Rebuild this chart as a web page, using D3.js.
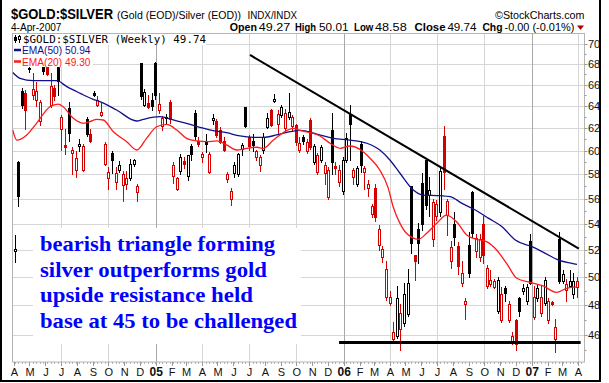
<!DOCTYPE html>
<html><head><meta charset="utf-8">
<script src="https://cdn.jsdelivr.net/npm/d3@7"></script>
<style>html,body{margin:0;padding:0;background:#fff;}svg{display:block;}</style>
</head><body>
<script>
// ---------- DATA ----------
const firstWeek = Date.UTC(2004, 3, 2); // weekly candles, one per week
const opens = [51.9,59.0,65.4,65.2,67.6,65.0,64.6,62.6,67.7,67.7,64.1,65.7,67.7,61.9,60.5,63.8,59.8,58.4,60.4,58.4,
62.8,61.5,65.2,64.1,63.2,58.9,57.7,59.8,57.4,58.4,57.1,57.2,57.7,58.9,56.5,68.1,64.1,64.3,64.6,68.1,
63.6,62.2,62.9,64.4,57.9,56.8,58.3,59.1,57.9,60.4,63.4,60.9,59.5,60.9,58.2,62.7,62.6,61.8,60.9,57.6,
56.0,58.1,58.0,60.2,63.9,61.2,60.9,59.5,58.8,60.1,62.1,63.6,64.5,62.4,63.2,62.0,63.0,62.2,62.3,60.1,
61.2,60.0,62.7,59.0,58.2,59.2,58.1,56.1,61.8,58.7,57.4,56.6,59.2,63.3,57.8,57.2,60.6,58.2,56.9,54.8,
56.9,52.4,51.5,48.6,48.2,45.7,45.9,46.4,46.8,47.4,57.0,51.6,53.6,57.3,59.2,56.3,52.8,54.6,54.9,61.3,
54.7,51.2,54.0,52.3,49.6,48.1,52.4,56.5,51.9,51.5,54.0,49.4,49.5,49.3,47.6,47.0,49.2,47.0,45.6,47.0,
48.5,49.0,48.3,52.7,47.2,48.5,47.5,48.2,47.0,48.25,45.7,52.8,49.7,49.1,49.4,48.8,49.27];
const highs = [53.1,59.1,65.7,65.5,67.7,67.1,66.3,64.6,67.8,67.8,67.1,66.0,67.7,63.2,61.9,64.4,60.3,60.0,61.0,60.6,
63.0,61.9,65.4,64.9,64.3,60.8,58.6,60.0,58.6,59.1,58.3,58.3,59.3,59.3,57.2,68.1,65.6,65.0,65.2,68.2,
65.2,63.1,63.3,64.6,59.0,57.8,59.7,59.5,59.6,60.6,63.6,61.2,59.9,61.5,59.9,63.3,62.8,62.1,61.2,58.2,
56.9,59.0,59.8,60.7,63.9,61.4,61.5,60.1,59.6,61.6,63.4,63.7,65.1,63.6,64.1,63.7,65.2,63.2,62.4,61.2,
61.4,61.0,62.9,60.6,59.8,60.5,59.0,58.6,63.4,59.0,58.8,59.5,61.6,64.1,58.5,58.7,60.9,58.7,57.5,55.6,
57.2,53.9,52.3,51.2,49.0,46.9,49.4,48.1,49.6,50.6,57.0,51.6,54.1,58.1,59.4,57.8,56.0,55.9,58.6,62.2,
56.0,52.7,54.9,52.6,51.2,48.5,53.4,56.6,53.2,53.2,54.6,50.9,50.5,49.9,50.0,49.3,49.4,48.3,46.2,47.1,
48.6,49.5,49.5,53.2,49.4,49.5,49.4,50.0,48.5,48.3,47.1,53.4,50.5,49.9,50.5,50.3,50.01];
const lows = [51.1,55.4,63.8,61.9,67.2,64.7,64.0,62.3,67.0,66.9,63.9,64.6,65.0,60.1,59.7,60.9,58.0,57.8,60.0,58.3,
61.3,60.8,64.9,64.0,63.1,58.8,56.8,58.1,56.8,58.2,55.8,56.8,57.5,58.7,55.8,64.7,64.0,63.8,63.6,64.7,
63.4,61.8,62.5,62.5,57.3,56.7,58.0,58.5,57.5,59.2,61.0,60.4,59.0,59.9,58.1,62.4,61.2,60.7,60.0,57.4,
55.5,57.8,57.9,59.6,62.1,60.1,60.0,59.2,58.3,59.8,62.0,62.2,64.4,61.5,63.0,61.8,62.8,61.8,60.5,59.9,
60.6,59.8,60.2,58.9,58.0,59.0,57.2,56.0,58.0,58.0,57.0,56.4,59.0,59.2,57.2,57.0,58.2,56.8,56.2,54.5,
54.2,52.0,51.1,48.4,48.0,45.6,45.8,45.0,46.6,47.3,51.8,49.8,51.0,53.5,55.2,54.6,52.3,54.3,54.6,56.8,
53.1,50.7,52.4,50.2,49.4,47.1,50.0,53.0,51.5,51.2,51.0,49.2,49.4,49.2,47.5,46.9,48.3,46.9,45.4,45.0,
47.3,48.8,48.1,49.5,47.1,48.3,47.3,48.0,46.8,48.0,44.9,49.6,49.6,48.3,49.3,48.5,48.58];
const closes = [52.1,56.2,64.1,63.6,67.65,65.6,65.4,64.4,67.3,67.0,65.9,64.9,66.4,63.0,60.3,61.6,60.1,59.4,60.6,60.4,
61.5,60.9,65.0,64.6,63.5,60.6,58.2,59.2,58.1,58.8,58.0,57.7,58.9,59.2,57.0,64.9,65.3,63.9,64.0,65.0,
64.2,62.9,63.0,62.8,58.8,57.7,59.5,58.9,59.6,59.7,61.3,60.6,59.7,60.6,59.7,62.9,61.4,60.8,60.1,58.0,
56.6,58.8,59.7,60.5,62.2,60.4,60.5,60.0,59.5,61.2,62.9,62.3,64.7,63.3,63.9,63.4,63.5,63.0,60.8,60.7,
60.9,60.8,60.3,60.4,59.6,60.3,58.8,58.4,59.0,58.5,58.4,59.2,61.1,62.4,58.4,58.5,58.8,58.5,57.2,55.4,
54.5,53.6,52.1,50.6,48.6,46.2,48.5,47.5,48.8,49.6,52.5,51.2,52.5,54.0,55.5,56.7,55.7,55.6,58.3,58.2,
55.8,52.2,53.0,50.8,50.3,48.3,50.3,53.3,52.9,52.8,51.6,50.7,49.8,49.7,49.8,48.8,48.9,48.1,45.9,45.4,
47.6,49.2,49.3,49.6,48.6,49.2,48.6,49.8,48.3,48.1,46.5,49.7,50.2,49.5,49.7,49.745,49.74];

const ema50Weeks  = [-0.5,1.5,5.2,11.7,14.5,18.2,21.8,23.7,28.3,33.9,35.7,40.3,44.0,47.7,51.4,55.1,58.8,62.5,66.2,69.0,72.7,76.4,79.2,83.8,88.4,93.0,97.7,101.3,104.1,106.9,110.6,113.3,118.0,120.8,124.1,127.8,131.5,135.2,138.9,143.5,147.2,150.9,154.6,156];
const ema50Values = [67.18,66.62,66.39,66.39,65.82,65.19,64.63,64.41,63.64,62.64,62.79,63.03,62.73,62.43,62.07,61.77,61.59,61.30,61.18,61.18,61.39,61.68,61.79,61.47,61.09,60.94,60.66,60.07,59.21,58.09,56.70,56.29,56.24,56.16,55.62,55.09,54.43,53.78,52.75,52.25,51.75,51.25,51.01,50.94];
const ema20Weeks  = [-0.5,0.6,3.4,6.1,9.8,12.1,13.5,16.3,19.1,20.9,22.8,24.6,27.4,31.1,33.9,36.6,39.4,42.2,45.0,47.7,50.5,53.3,56.1,58.8,61.6,64.4,67.2,69.0,71.8,74.5,77.3,79.2,82.0,84.7,87.5,90.3,93.0,95.8,98.6,101.3,103.6,105.0,106.9,108.7,112.0,114.3,117.1,119.8,122.6,125.4,128.2,130.9,133.7,136.5,139.3,143.0,146.6,150.3,153.1,156];
const ema20Values = [61.83,60.94,61.39,62.43,63.94,64.19,63.94,62.88,62.43,62.58,62.79,62.73,61.68,60.80,60.07,61.09,62.12,62.34,61.83,61.09,60.86,60.80,60.86,60.51,60.07,60.22,60.31,60.22,60.94,61.59,61.98,61.79,61.59,61.30,60.66,60.22,60.42,60.13,59.36,58.36,56.90,55.35,54.04,53.27,52.81,53.27,54.04,54.69,54.17,53.14,52.81,52.63,52.00,50.99,49.92,49.63,49.37,48.92,49.20,49.30];

const resistanceWeeks = [65.3, 156.5];
const resistanceValues = [68.90, 52.11];
const supportWeeks = [90, 157];
const supportValues = [45.5, 45.5];

const yTicks = [46,48,50,52,54,56,58,60,62,64,66,68,70];
const monthLabels = ["A","M","J","J","A","S","O","N","D","05","F","M","A","M","J","J","A","S","O","N","D","06","F","M","A","M","J","J","A","S","O","N","D","07","F","M","A"];
const notes = ["bearish triangle forming","silver outperforms gold","upside resistance held","base at 45 to be challenged"];
const quoteLabels = ["Open","High","Low","Close","Chg"];
const quoteValues = ["49.27","50.01","48.58","49.74","-0.00 (-0.01%)"];

// ---------- CHART ----------
const W = 609, H = 383;
const P = {l: 12.5, r: 584.5, t: 33, b: 362};
const RED = "#d40000", NAVY = "#10108a", EMARED = "#ff1a1a";
const FONT = "'Liberation Sans', Arial, sans-serif";
const DAY = 864e5;
const weekDate = w => new Date(firstWeek + w * 7 * DAY);

const svg = d3.select("body").append("svg").attr("width", W).attr("height", H)
  .style("font-family", FONT);
svg.append("rect").attr("width", W).attr("height", H).attr("fill", "#fff");

const x = d3.scaleUtc().domain([new Date(Date.UTC(2004,2,29)), new Date(Date.UTC(2007,3,14,12))]).range([P.l, 585]);
const y = d3.scaleLog().domain([44.24, 71.12]).range([P.b, P.t]);

svg.append("defs").append("clipPath").attr("id","clip").append("rect")
  .attr("x", P.l).attr("y", P.t).attr("width", P.r - P.l).attr("height", P.b - P.t);

// gridlines
const grid = svg.append("g");
yTicks.forEach(v => {
  const yy = Math.round(y(v)) + 0.5;
  grid.append("line").attr("x1", P.l).attr("x2", P.r).attr("y1", yy).attr("y2", yy)
    .attr("stroke", "#d6d6d6").attr("stroke-width", 1);
});
const quarters = d3.utcMonth.every(3).range(new Date(Date.UTC(2004,6,1)), new Date(Date.UTC(2007,3,2)));
quarters.forEach(d => {
  const xx = Math.round(x(d)) + 0.5;
  grid.append("line").attr("x1", xx).attr("x2", xx).attr("y1", P.t).attr("y2", P.b)
    .attr("stroke", d.getUTCMonth() === 0 ? "#a8a8a8" : "#d6d6d6").attr("stroke-width", 1);
});

// plot frame
svg.append("rect").attr("x", P.l).attr("y", P.t + 0.5).attr("width", P.r - P.l).attr("height", P.b - P.t - 0.5)
  .attr("fill", "none").attr("stroke", "#b4b4b4").attr("stroke-width", 1);

// right axis
const ax = svg.append("g");
d3.range(45, 71).forEach(v => {
  const yy = Math.round(y(v)) + 0.5;
  const major = v % 2 === 0;
  ax.append("line").attr("x1", P.r).attr("x2", P.r + (major ? 3 : 2)).attr("y1", yy).attr("y2", yy)
    .attr("stroke", "#999");
});
yTicks.forEach(v => {
  ax.append("text").attr("x", 588).attr("y", y(v)).attr("dy", "0.36em")
    .attr("font-size", 11).attr("fill", "#111").text(v);
});

// bottom axis ticks & labels
const months = d3.utcMonth.range(new Date(Date.UTC(2004,3,1)), new Date(Date.UTC(2007,3,2)));
d3.range(0, 158).forEach(i => {
  const xx = Math.round(x(weekDate(i))) + 0.5;
  if (xx > P.l && xx < P.r) ax.append("line").attr("x1", xx).attr("x2", xx).attr("y1", P.b).attr("y2", P.b + 2).attr("stroke", "#b4b4b4");
});
months.forEach((d, i) => {
  const xx = x(d);
  ax.append("line").attr("x1", Math.round(xx) + 0.5).attr("x2", Math.round(xx) + 0.5)
    .attr("y1", P.b).attr("y2", P.b + 4).attr("stroke", "#999");
  const isYear = d.getUTCMonth() === 0;
  ax.append("text").attr("x", xx + 0.5).attr("y", 376).attr("text-anchor", "middle")
    .attr("font-size", isYear ? 12 : 11).attr("font-weight", isYear ? "bold" : "normal")
    .attr("fill", "#111").text(monthLabels[i]);
});

// annotation box (masks grid)
svg.append("rect").attr("x", 33).attr("y", 228).attr("width", 268).attr("height", 116).attr("fill", "#fff");

// candles
const candles = opens.map((o, i) => ({
  d: weekDate(i), o, h: highs[i], l: lows[i], c: closes[i], prev: i ? closes[i - 1] : o
}));
const cg = svg.append("g").attr("clip-path", "url(#clip)");
candles.forEach(k => {
  const cx = Math.round(x(k.d));
  const col = k.c >= k.prev ? "#000" : RED;
  const filled = k.c < k.o;
  cg.append("line").attr("x1", cx + 0.5).attr("x2", cx + 0.5)
    .attr("y1", Math.round(y(k.h))).attr("y2", Math.round(y(k.l)) + 1)
    .attr("stroke", col).attr("stroke-width", 1);
  const top = Math.round(y(Math.max(k.o, k.c)));
  const bot = Math.round(y(Math.min(k.o, k.c)));
  if (filled) {
    cg.append("rect").attr("x", cx - 1).attr("width", 3).attr("y", top).attr("height", Math.max(1, bot - top + 1))
      .attr("fill", col);
  } else {
    cg.append("rect").attr("x", cx - 0.5).attr("width", 2).attr("y", top + 0.5).attr("height", Math.max(1, bot - top))
      .attr("fill", "#fff").attr("stroke", col).attr("stroke-width", 1);
  }
});

// EMA lines
const line = d3.line().x(p => x(weekDate(p[0]))).y(p => y(p[1])).curve(d3.curveMonotoneX);
cg.append("path").attr("d", line(d3.zip(ema50Weeks, ema50Values))).attr("fill", "none")
  .attr("stroke", NAVY).attr("stroke-width", 1.3);
cg.append("path").attr("d", line(d3.zip(ema20Weeks, ema20Values))).attr("fill", "none")
  .attr("stroke", EMARED).attr("stroke-width", 1.3);

// trend lines
const sline = d3.line().x(p => x(weekDate(p[0]))).y(p => y(p[1]));
cg.append("path").attr("d", sline(d3.zip(resistanceWeeks, resistanceValues))).attr("fill", "none")
  .attr("stroke", "#000").attr("stroke-width", 2);
cg.append("path").attr("d", sline(d3.zip(supportWeeks, supportValues))).attr("fill", "none")
  .attr("stroke", "#000").attr("stroke-width", 3);

// legend
const lg = svg.append("g");
lg.append("rect").attr("x", P.l + 0.5).attr("y", P.t + 1).attr("width", 193).attr("height", 11).attr("fill", "#fff");
lg.append("rect").attr("x", P.l + 0.5).attr("y", P.t + 12).attr("width", 80).attr("height", 22).attr("fill", "#fff");
lg.append("path").attr("d", "M15.5,35V43M19.5,35V43").attr("stroke", "#000").attr("stroke-width", 1);
lg.append("rect").attr("x", 14).attr("y", 37).attr("width", 3).attr("height", 4).attr("fill", "#000");
lg.append("rect").attr("x", 18.5).attr("y", 36.5).attr("width", 2).attr("height", 3).attr("fill", "#fff").attr("stroke", "#000");
lg.append("text").attr("x", 23).attr("y", 42.5).attr("font-family", "'DejaVu Sans Mono', monospace")
  .attr("font-size", 10.5).attr("textLength", 183).attr("lengthAdjust", "spacingAndGlyphs")
  .attr("fill", "#000").text("$GOLD:$SILVER (Weekly) 49.74");
lg.append("line").attr("x1", 14).attr("x2", 21).attr("y1", 50).attr("y2", 50).attr("stroke", NAVY).attr("stroke-width", 2.5);
lg.append("text").attr("x", 22).attr("y", 54).attr("font-size", 10.8).attr("fill", NAVY)
  .attr("textLength", 68.5).attr("lengthAdjust", "spacingAndGlyphs").text("EMA(50) 50.94");
lg.append("line").attr("x1", 14).attr("x2", 21).attr("y1", 61.5).attr("y2", 61.5).attr("stroke", EMARED).attr("stroke-width", 2.5);
lg.append("text").attr("x", 22).attr("y", 65.5).attr("font-size", 10.8).attr("fill", EMARED)
  .attr("textLength", 68.5).attr("lengthAdjust", "spacingAndGlyphs").text("EMA(20) 49.30");

// annotation text
const noteW = [235, 227, 213, 257];
notes.forEach((t, i) => {
  svg.append("text").attr("x", 40).attr("y", 251 + i * 25.7)
    .attr("font-family", "'Liberation Serif', 'Times New Roman', serif").attr("font-weight", "bold")
    .attr("font-size", 22).attr("fill", "#0000ff")
    .attr("textLength", noteW[i]).attr("lengthAdjust", "spacingAndGlyphs").text(t);
});

// header
const hd = svg.append("g").attr("fill", "#000");
hd.append("text").attr("x", 11).attr("y", 19).attr("font-weight", "bold").attr("font-size", 14.5)
  .attr("textLength", 102).attr("lengthAdjust", "spacingAndGlyphs").text("$GOLD:$SILVER");
hd.append("text").attr("x", 117).attr("y", 19).attr("font-size", 11.5)
  .attr("textLength", 124).attr("lengthAdjust", "spacingAndGlyphs").text("(Gold (EOD)/Silver (EOD))");
hd.append("text").attr("x", 247.5).attr("y", 19).attr("font-size", 10)
  .attr("textLength", 49.5).attr("lengthAdjust", "spacingAndGlyphs").text("INDX/INDX");
hd.append("text").attr("x", 495).attr("y", 19).attr("font-size", 11)
  .attr("textLength", 89.5).attr("lengthAdjust", "spacingAndGlyphs").text("\u00A9StockCharts.com");
hd.append("text").attr("x", 11).attr("y", 31).attr("font-size", 11)
  .attr("textLength", 50.5).attr("lengthAdjust", "spacingAndGlyphs").text("4-Apr-2007");
const labX = [229.7, 295, 354, 414.5, 482.4], labW = [27.2, 21, 19.3, 31, 20.1];
const valX = [258.8, 319, 375, 447.4, 504.5], valW = [31.5, 29.5, 31.7, 29.1, 69.8];
quoteLabels.forEach((t, i) => {
  hd.append("text").attr("x", labX[i]).attr("y", 31).attr("font-size", 11).attr("font-weight", "bold")
    .attr("textLength", labW[i]).attr("lengthAdjust", "spacingAndGlyphs").text(t);
  hd.append("text").attr("x", valX[i]).attr("y", 31).attr("font-size", 11)
    .attr("textLength", valW[i]).attr("lengthAdjust", "spacingAndGlyphs").text(quoteValues[i]);
});
hd.append("path").attr("d", "M577,25.5H584L580.5,30Z").attr("fill", "#b00000");

// outer frame
svg.append("path").attr("d", "M1,0V381H600V0").attr("fill", "none").attr("stroke", "#000").attr("stroke-width", 2);
</script>
</body></html>
